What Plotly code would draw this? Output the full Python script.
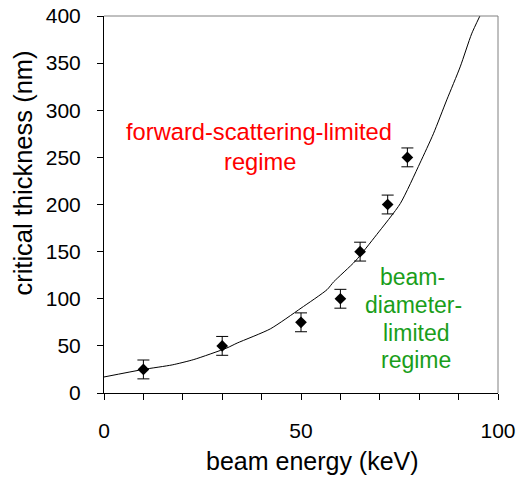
import plotly.graph_objects as go

# measured points
energy = [10, 30, 50, 60, 65, 72, 77]
thickness = [25, 50, 75, 100, 150, 200, 250]
err = [10, 10, 10, 10, 10, 10, 10]

# model curve
curve_x = [0, 10, 17.3, 22.8, 31.2, 33.8, 42.2, 50, 56.6, 58.3, 63.8, 69.2, 75.2, 80.2, 83.6, 87, 90.4, 93.3, 95.4]
curve_y = [17, 25, 29.8, 35.5, 47.8, 53, 68, 90, 109.6, 118, 140, 168, 201, 244, 275, 311, 346, 381, 400]

# annotation lines
red_lines = ["forward-scattering-limited", "regime"]
red_x = [39.3, 39.5]
red_y = [276.8, 245.3]
green_lines = ["beam-", "diameter-", "limited", "regime"]
green_x = [78.3, 78.6, 79.2, 79.2]
green_y = [123.3, 93.7, 64.1, 34.6]

FONT = "Liberation Sans, Arial, sans-serif"

fig = go.Figure()
fig.add_trace(go.Scatter(x=curve_x, y=curve_y, mode="lines",
                         line=dict(color="black", width=1, shape="spline", smoothing=0.6),
                         hoverinfo="skip", showlegend=False))
fig.add_trace(go.Scatter(x=energy, y=thickness, mode="markers",
                         marker=dict(symbol="diamond", size=9, color="black"),
                         error_y=dict(type="data", array=err, color="black", thickness=1, width=6),
                         showlegend=False))

for t, x, y in zip(red_lines, red_x, red_y):
    fig.add_annotation(x=x, y=y, xref="x", yref="y", showarrow=False, text=t,
                       xanchor="center", yanchor="middle",
                       font=dict(family=FONT, size=23.7, color="#ff0000"))
for t, x, y in zip(green_lines, green_x, green_y):
    fig.add_annotation(x=x, y=y, xref="x", yref="y", showarrow=False, text=t,
                       xanchor="center", yanchor="middle",
                       font=dict(family=FONT, size=23, color="#1a9e1a"))

# axis titles
fig.add_annotation(x=0.5285, y=-0.181, xref="paper", yref="paper", showarrow=False,
                   xanchor="center", yanchor="middle",
                   text="beam energy (keV)", font=dict(family=FONT, size=25, color="black"))
fig.add_annotation(x=-0.2066, y=0.5836, xref="paper", yref="paper", showarrow=False,
                   xanchor="center", yanchor="middle",
                   text="critical thickness (nm)", textangle=-90,
                   font=dict(family=FONT, size=25.5, color="black"))

# gray frame on top and right
fig.add_shape(type="line", xref="paper", yref="paper", x0=0, x1=1, y0=1, y1=1,
              line=dict(color="#808080", width=1))
fig.add_shape(type="line", xref="paper", yref="paper", x0=1, x1=1, y0=0, y1=1,
              line=dict(color="#808080", width=1))

fig.update_layout(
    width=522, height=477,
    margin=dict(l=104, r=24, t=16, b=84, autoexpand=False),
    paper_bgcolor="white", plot_bgcolor="white",
    font=dict(family=FONT, size=20, color="black"),
    xaxis=dict(range=[0, 100], tickvals=[0, 50, 100], ticks="outside", ticklen=6,
               tickcolor="black", showline=True, linecolor="black", linewidth=1,
               showgrid=False, zeroline=False, automargin=False, ticklabelstandoff=13,
               tickfont=dict(size=21),
               minor=dict(dtick=10, tick0=0, ticks="outside", ticklen=6, tickcolor="black", showgrid=False)),
    yaxis=dict(range=[0, 400], dtick=50, ticks="outside", ticklen=6, tickcolor="black",
               showline=True, linecolor="black", linewidth=1, showgrid=False, zeroline=False,
               automargin=False, ticklabelstandoff=12, tickfont=dict(size=21)),
)

fig.write_html("out.html")
